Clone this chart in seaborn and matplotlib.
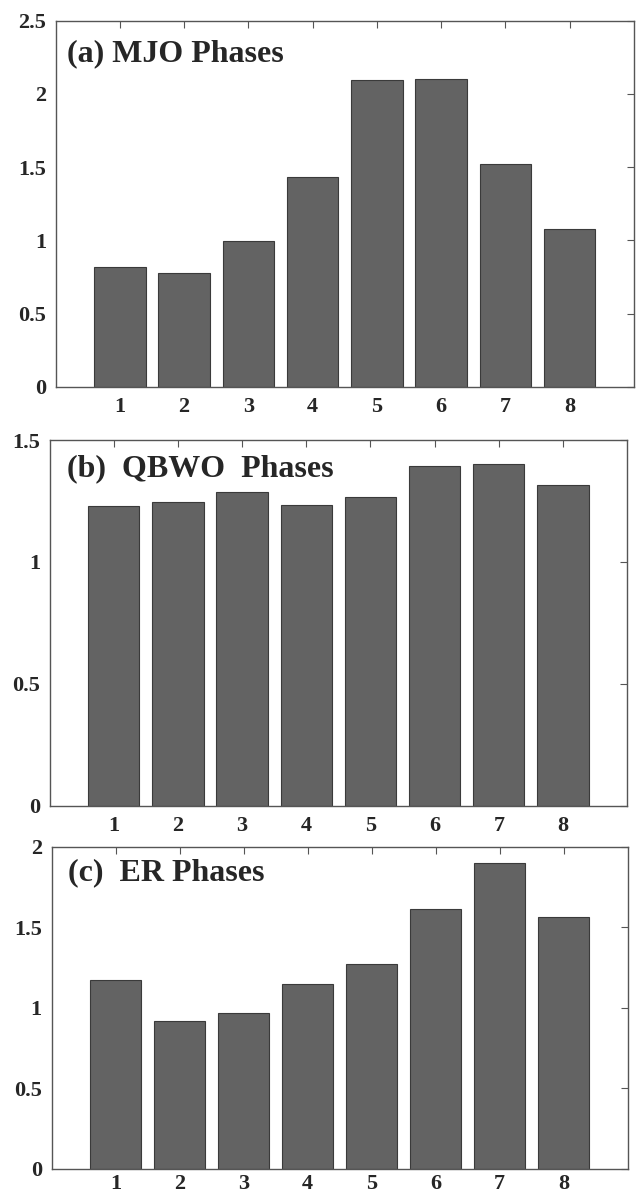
import numpy as np
import seaborn as sb
import matplotlib.pyplot as plt
import pandas as pd
from matplotlib.ticker import FuncFormatter

# valeurs
phases = [1, 2, 3, 4, 5, 6, 7, 8]
mjo = [0.82, 0.776, 0.994, 1.431, 2.093, 2.102, 1.524, 1.076]
qbwo = [1.231, 1.245, 1.288, 1.234, 1.265, 1.395, 1.402, 1.316]
er = [1.172, 0.919, 0.968, 1.149, 1.274, 1.614, 1.897, 1.566]

titres = ["(a) MJO Phases", "(b)  QBWO  Phases", "(c)  ER Phases"]
ymax = [2.5, 1.5, 2.0]
yticks = [[0, 0.5, 1, 1.5, 2, 2.5], [0, 0.5, 1, 1.5], [0, 0.5, 1, 1.5, 2]]
# position des axes (fraction de la figure) et du texte
pos = [[0.0876, 0.6767, 0.909, 0.306],
       [0.078, 0.3267, 0.908, 0.3057],
       [0.081, 0.0235, 0.906, 0.2690]]
txt_xy = [(0.02, 0.89), (0.03, 0.90), (0.028, 0.898)]
xpad = [7, 7, 4]

sb.set_style("white")
plt.rcParams['font.family'] = ['Liberation Serif', 'DejaVu Serif']
plt.rcParams['font.weight'] = 'bold'

fig = plt.figure(figsize=(6.36, 11.97), dpi=100)

for i, vals in enumerate([mjo, qbwo, er]):
    ax = fig.add_axes(pos[i])
    df = pd.DataFrame({"phase": phases, "val": vals})
    sb.barplot(data=df, x="phase", y="val", native_scale=True, width=0.8,
               color="#636363", saturation=1, edgecolor="#3a3a3a", linewidth=0.8, ax=ax)
    ax.set_xlim(0, 9)
    ax.set_ylim(0, ymax[i])
    ax.set_xticks(phases)
    ax.set_yticks(yticks[i])
    ax.yaxis.set_major_formatter(FuncFormatter(lambda v, p: "%g" % v))
    ax.set_xlabel("")
    ax.set_ylabel("")
    for s in ax.spines.values():
        s.set_color("#555555")
        s.set_linewidth(1.0)
        s.set_visible(True)
    ax.tick_params(direction="in", length=5, width=0.8, color="#555555",
                   top=True, right=True, labelsize=16, pad=7)
    ax.tick_params(axis="x", pad=xpad[i])
    for lab in ax.get_xticklabels() + ax.get_yticklabels():
        lab.set_fontweight("bold")
    ax.text(txt_xy[i][0], txt_xy[i][1], titres[i], transform=ax.transAxes,
            fontsize=23, fontweight="bold", ha="left", va="baseline")

plt.savefig("out.png", dpi=100)
